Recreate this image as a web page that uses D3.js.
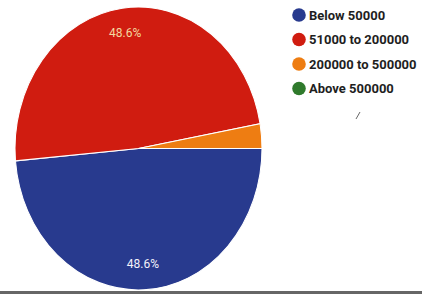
<!DOCTYPE html>
<html>
<head>
<meta charset="utf-8">
<script src="https://cdn.jsdelivr.net/npm/d3@7"></script>
<style>
  html, body { margin: 0; padding: 0; background: #fff; }
  svg { display: block; }
</style>
</head>
<body>
<svg id="chart" width="422" height="294"></svg>
<script>
const categories = ["Below 50000", "51000 to 200000", "200000 to 500000", "Above 500000"];
const values = [48.6, 48.6, 2.8, 0];
const colors = ["#283a8e", "#d01c10", "#ee7d12", "#2f7a2c"];
const labelColors = ["#f4f2fa", "#f3d9a0", "#ffffff", "#ffffff"];

const svg = d3.select("#chart");
const W = 422, H = 294;

const cx = 138.5, cy = 148.5, ry = 141.5, rx = 123.5;
const sx = rx / ry;

const data = categories.map((c, i) => ({ name: c, value: values[i], color: colors[i], lc: labelColors[i] }));

const pie = d3.pie().value(d => d.value).sort(null)
  .startAngle(Math.PI / 2).endAngle(Math.PI / 2 + 2 * Math.PI);
const arcs = pie(data);
const arc = d3.arc().innerRadius(0).outerRadius(ry);
const labelArc = d3.arc().innerRadius(ry * 0.82).outerRadius(ry * 0.82);

const g = svg.append("g").attr("transform", `translate(${cx},${cy}) scale(${sx},1)`);
g.selectAll("path").data(arcs.filter(a => a.data.value > 0)).join("path")
  .attr("d", arc)
  .attr("fill", d => d.data.color)
  .attr("stroke", "#ffffff")
  .attr("stroke-width", 1.2);

svg.append("g").selectAll("text").data(arcs.filter(a => a.data.value > 10)).join("text")
  .attr("x", d => cx + labelArc.centroid(d)[0] * sx)
  .attr("y", d => cy + labelArc.centroid(d)[1])
  .attr("text-anchor", "middle")
  .attr("dominant-baseline", "central")
  .attr("font-family", "Roboto, Arial, sans-serif")
  .attr("font-size", 12)
  .attr("fill", d => d.data.lc)
  .text(d => d.data.value.toFixed(1) + "%");

// legend
const legend = svg.append("g");
const ly = d3.scalePoint().domain(categories).range([15, 88.5]);
const items = legend.selectAll("g").data(data).join("g")
  .attr("transform", d => `translate(299,${ly(d.name)})`);
items.append("circle").attr("r", 6.8).attr("fill", d => d.color);
items.append("text")
  .attr("x", 10)
  .attr("dominant-baseline", "central")
  .attr("font-family", "Roboto, Arial, sans-serif")
  .attr("font-weight", "bold")
  .attr("font-size", 13)
  .attr("fill", "#1e1e1e")
  .text(d => d.name);

// small stray mark
svg.append("line").attr("x1", 356).attr("y1", 119).attr("x2", 360).attr("y2", 112)
  .attr("stroke", "#666").attr("stroke-width", 1);

// bottom border line
svg.append("rect").attr("x", 0).attr("y", 291).attr("width", W).attr("height", 3).attr("fill", "#666");
</script>
</body>
</html>
